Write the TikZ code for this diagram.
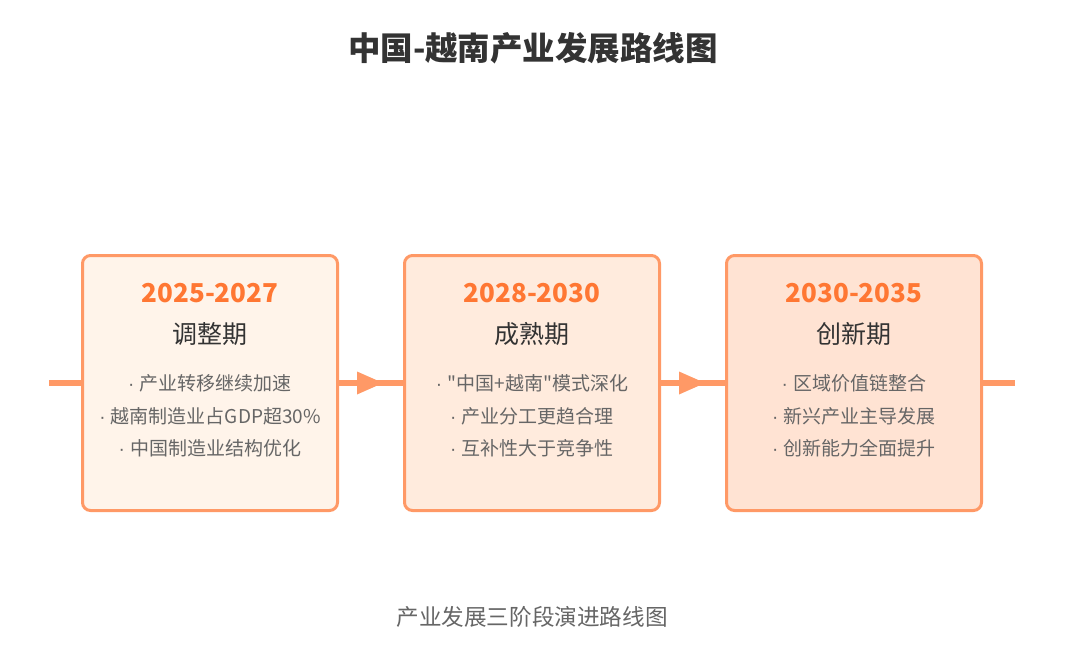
\documentclass[tikz,border=0pt]{standalone}
\usepackage{fontspec}
\setmainfont{Noto Sans CJK SC}[Ligatures=TeXOff]
\newfontfamily\dotfont{Liberation Sans}[Ligatures=TeXOff]
\newcommand\itembul{{\dotfont ·\ }}
\usetikzlibrary{calc}
\definecolor{bordc}{HTML}{FF9966}
\definecolor{fillA}{HTML}{FFF4EA}
\definecolor{fillB}{HTML}{FFEBDD}
\definecolor{fillC}{HTML}{FFE3D3}
\definecolor{yearc}{HTML}{FF7733}
\definecolor{darkc}{HTML}{333333}
\definecolor{itemc}{HTML}{666666}
\tikzset{
  phasebox/.style={draw=bordc, line width=3pt, rounded corners=8pt, minimum width=255pt, minimum height=255pt, inner sep=0pt},
  yeartext/.style={font=\fontsize{26}{30}\selectfont\bfseries, text=yearc, inner sep=0pt},
  phasetext/.style={font=\fontsize{25}{30}\selectfont, text=darkc, inner sep=0pt},
  itemtext/.style={font=\fontsize{19}{23}\selectfont, text=itemc, inner sep=0pt},
  timeline/.style={draw=bordc, line width=6pt},
  arrowhd/.style={fill=bordc},
}
\begin{document}
\begin{tikzpicture}[x=1pt,y=-1pt]
\useasboundingbox[fill=white] (0,0) rectangle (1080,658);
\node[font=\fontsize{32.5}{38}\selectfont\bfseries, text=darkc, inner sep=0pt] (title) at (533,48) {中国-越南产业发展路线图};
\node[font=\fontsize{22.6}{26}\selectfont, text=itemc, inner sep=0pt] (caption) at (532,617) {产业发展三阶段演进路线图};

\node[phasebox, fill=fillA] (b1) at (210,383) {};
\node[phasebox, fill=fillB] (b2) at (532,383) {};
\node[phasebox, fill=fillC] (b3) at (854,383) {};

\coordinate (lstart) at (49,383);
\coordinate (lend) at (1015,383);
\draw[timeline] (lstart) -- (b1.west);
\draw[timeline] (b1.east) -- (b2.west);
\draw[timeline] (b2.east) -- (b3.west);
\draw[timeline] (b3.east) -- (lend);
\fill[arrowhd] ($(b1.east)+(18,-11.5)$) -- ++(26,11.5) -- ++(-26,11.5) -- cycle;
\fill[arrowhd] ($(b2.east)+(18,-11.5)$) -- ++(26,11.5) -- ++(-26,11.5) -- cycle;

\node[yeartext] (y1) at (210,293) {2025-2027};
\node[phasetext] (p1) at (210,334) {调整期};
\node[itemtext] (i11) at (210,383) {\itembul 产业转移继续加速};
\node[itemtext] (i12) at (210,416) {\itembul 越南制造业占GDP超30\%};
\node[itemtext] (i13) at (210,448) {\itembul 中国制造业结构优化};

\node[yeartext] (y2) at (532,293) {2028-2030};
\node[phasetext] (p2) at (532,334) {成熟期};
\node[itemtext] (i21) at (532,383) {\itembul "中国+越南"模式深化};
\node[itemtext] (i22) at (532,416) {\itembul 产业分工更趋合理};
\node[itemtext] (i23) at (532,448) {\itembul 互补性大于竞争性};

\node[yeartext] (y3) at (854,293) {2030-2035};
\node[phasetext] (p3) at (854,334) {创新期};
\node[itemtext] (i31) at (854,383) {\itembul 区域价值链整合};
\node[itemtext] (i32) at (854,416) {\itembul 新兴产业主导发展};
\node[itemtext] (i33) at (854,448) {\itembul 创新能力全面提升};
\end{tikzpicture}
\end{document}
